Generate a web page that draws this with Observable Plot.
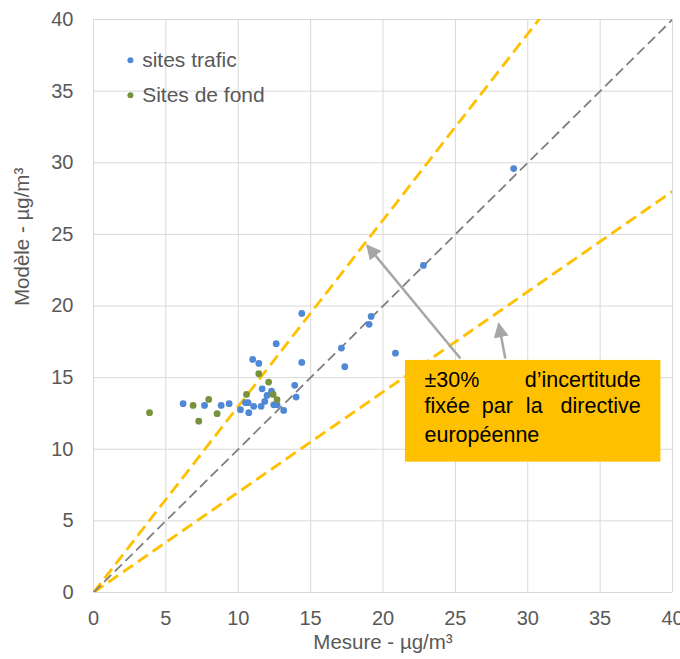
<!DOCTYPE html>
<html>
<head>
<meta charset="utf-8">
<script src="https://cdn.jsdelivr.net/npm/d3@7"></script>
<script src="https://cdn.jsdelivr.net/npm/@observablehq/plot@0.6"></script>
<style>
  html, body { margin: 0; padding: 0; background: #ffffff; }
  #chart { width: 680px; height: 659px; }
</style>
</head>
<body>
<div id="chart"></div>
<script>
// ---- Data ----
const xTicks = [0, 5, 10, 15, 20, 25, 30, 35, 40];
const yTicks = [0, 5, 10, 15, 20, 25, 30, 35, 40];

const traficX = [6.19, 7.67, 8.82, 9.37, 10.15, 10.5, 10.68, 10.73, 11.07, 11.58, 11.83, 11.99, 11.65, 12.3, 12.45, 12.68, 13.14, 13.9, 14.0, 11.0, 11.42, 12.62, 14.39, 14.39, 17.13, 17.36, 19.04, 19.18, 20.86, 22.79, 29.03];
const traficY = [13.18, 13.06, 13.06, 13.18, 12.76, 13.25, 13.25, 12.55, 13.0, 13.0, 13.34, 13.76, 14.22, 14.05, 13.1, 13.1, 12.71, 14.46, 13.64, 16.27, 15.99, 17.37, 16.06, 19.48, 17.06, 15.76, 18.72, 19.27, 16.71, 22.83, 29.59];

const fondX = [3.87, 6.88, 7.27, 7.96, 8.54, 10.57, 11.42, 12.1, 12.41, 12.68];
const fondY = [12.55, 13.06, 11.96, 13.48, 12.48, 13.83, 15.27, 14.69, 13.83, 13.46];

const seriesNames = ["sites trafic", "Sites de fond"];
const seriesColors = ["#4F88D6", "#76923C"];

const bandRatios = [1.3, 0.7];   // ±30 %
const identityRatio = [1];

const legendX = [2.55, 2.55];
const legendY = [37.16, 34.71];
const legendTextX = 3.36;

// annotation box (data units)
const boxRect = [{x1: 21.55, x2: 39.2, y1: 9.1, y2: 16.2}];
const boxWordsStart = [
  {w: "±30%", x: 22.87, y: 14.34},
  {w: "fixée", x: 22.87, y: 12.52},
  {w: "par", x: 26.83, y: 12.52},
  {w: "la", x: 29.87, y: 12.52},
  {w: "européenne", x: 22.87, y: 10.5}
];
const boxWordsEnd = [
  {w: "d’incertitude", x: 37.8, y: 14.34},
  {w: "directive", x: 37.8, y: 12.52}
];
const arrows = [
  {x1: 25.35, y1: 16.34, x2: 18.9, y2: 24.23},
  {x1: 28.45, y1: 16.34, x2: 27.99, y2: 18.76}
];

// ---- Build tables ----
const trafic = traficX.map((x, i) => ({x, y: traficY[i]}));
const fond = fondX.map((x, i) => ({x, y: fondY[i]}));
const legend = seriesNames.map((name, i) => ({name, x: legendX[i], y: legendY[i], c: seriesColors[i]}));
const xMax = xTicks[xTicks.length - 1];

const font = "'Liberation Sans', Arial, sans-serif";
const grey = "#595959";

const chart = Plot.plot({
  width: 680,
  height: 659,
  marginLeft: 93,
  marginRight: 8,
  marginTop: 19,
  marginBottom: 67,
  style: {fontFamily: font, fontSize: "20px", color: grey, background: "#ffffff"},
  x: {domain: [0, 40]},
  y: {domain: [0, 40]},
  marks: [
    Plot.gridX({ticks: xTicks, stroke: "#D9D9D9", strokeOpacity: 1, strokeWidth: 1}),
    Plot.gridY({ticks: yTicks, stroke: "#D9D9D9", strokeOpacity: 1, strokeWidth: 1}),
    Plot.axisX({ticks: xTicks, tickSize: 0, tickPadding: 18, label: null, fontSize: 20}),
    Plot.axisY({ticks: yTicks, tickSize: 0, tickPadding: 20, label: null, fontSize: 20}),
    Plot.text(["Mesure - µg/m³"], {frameAnchor: "bottom", dy: 56, fontSize: 20.5, fill: grey}),
    Plot.text(["Modèle - µg/m³"], {frameAnchor: "left", dx: -71, rotate: -90, fontSize: 20.5, fill: grey}),
    Plot.link(bandRatios, {x1: () => 0, y1: () => 0, x2: () => xMax, y2: d => xMax * d,
      stroke: "#FFC000", strokeWidth: 2.8, strokeDasharray: "12,6", clip: true}),
    Plot.link(identityRatio, {x1: () => 0, y1: () => 0, x2: () => xMax, y2: d => xMax * d,
      stroke: "#7F7F7F", strokeWidth: 1.8, strokeDasharray: "10,5", clip: true}),
    Plot.dot(trafic, {x: "x", y: "y", r: 3.4, fill: seriesColors[0], stroke: "none"}),
    Plot.dot(fond, {x: "x", y: "y", r: 3.4, fill: seriesColors[1], stroke: "none"}),
    Plot.link(arrows, {x1: "x1", y1: "y1", x2: "x2", y2: "y2", stroke: "#A6A6A6", strokeWidth: 2.5, className: "annarrow"}),
    Plot.rect(boxRect, {x1: "x1", x2: "x2", y1: "y1", y2: "y2", fill: "#FFC000"}),
    Plot.text(boxWordsStart, {x: "x", y: "y", text: "w", textAnchor: "start", lineAnchor: "bottom", fontSize: 21.5, fill: "#000000"}),
    Plot.text(boxWordsEnd, {x: "x", y: "y", text: "w", textAnchor: "end", lineAnchor: "bottom", fontSize: 21.5, fill: "#000000"}),
    Plot.dot(legend, {x: "x", y: "y", r: 3, fill: "c", stroke: "none"}),
    Plot.text(legend, {x: () => legendTextX, y: "y", text: "name", textAnchor: "start", fontSize: 21, fill: grey})
  ]
});

// filled triangular arrowheads
const ns = "http://www.w3.org/2000/svg";
const defs = document.createElementNS(ns, "defs");
const marker = document.createElementNS(ns, "marker");
marker.setAttribute("id", "triHead");
marker.setAttribute("viewBox", "0 0 10 10");
marker.setAttribute("refX", "9");
marker.setAttribute("refY", "5");
marker.setAttribute("markerWidth", "6");
marker.setAttribute("markerHeight", "6");
marker.setAttribute("orient", "auto");
const tri = document.createElementNS(ns, "path");
tri.setAttribute("d", "M0,0L10,5L0,10Z");
tri.setAttribute("fill", "#A6A6A6");
marker.appendChild(tri);
defs.appendChild(marker);
chart.insertBefore(defs, chart.firstChild);
chart.querySelectorAll("g.annarrow path").forEach(p => p.setAttribute("marker-end", "url(#triHead)"));

document.getElementById("chart").appendChild(chart);
</script>
</body>
</html>
